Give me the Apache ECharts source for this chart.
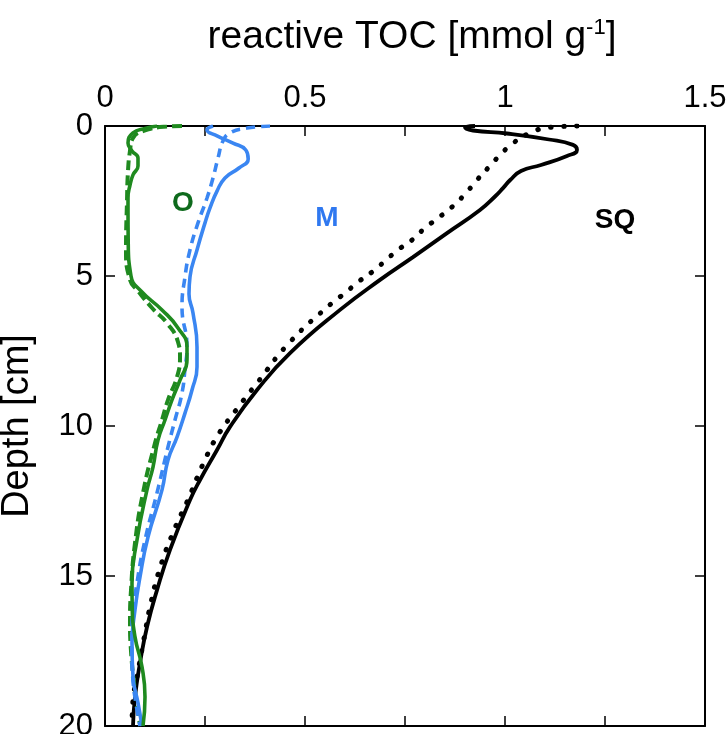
<!DOCTYPE html>
<html><head><meta charset="utf-8">
<script src="https://cdn.jsdelivr.net/npm/echarts@6/dist/echarts.min.js"></script>
<style>html,body{margin:0;padding:0;background:#fff}#c{width:727px;height:734px}</style>
</head><body><div id="c"></div>
<script>
// SQ (black)
const sqSolidX = [0.925,0.90,0.92,1.005,1.11,1.17,1.18,1.155,1.09,1.04,1.013,0.995,0.975,0.9375,0.855,0.77,0.6875,0.5875,0.4625,0.38,0.3125,0.28,0.2375,0.2125,0.1625,0.13,0.105,0.0875,0.075,0.07];
const sqSolidD = [0,0.05,0.15,0.25,0.45,0.63,0.8,1.0,1.3,1.5,1.8,2.07,2.35,2.8,3.57,4.37,5.13,6.13,7.57,8.8,10.03,10.8,11.8,12.47,14.13,15.47,16.7,17.9,19.03,20];
const sqDotX = [1.18,1.11,1.06,1.0175,0.9875,0.9575,0.93,0.9,0.8675,0.8325,0.8,0.7675,0.7325,0.7,0.6675,0.6325,0.6,0.5675,0.4625,0.38,0.33,0.2825,0.2475,0.205,0.175,0.1375,0.1125,0.1,0.08,0.07,0.0675];
const sqDotD = [0,0.05,0.25,0.6,0.97,1.4,1.8,2.27,2.7,3.07,3.4,3.8,4.13,4.5,4.87,5.2,5.57,5.9,7.2,8.57,9.43,10.3,11.2,12.53,13.4,14.73,16.03,16.9,18.37,19.13,20];
// M (blue)
const mSolidX = [0.27,0.255,0.28,0.32,0.352,0.358,0.335,0.3,0.28,0.2625,0.25,0.23,0.2125,0.21,0.22,0.23,0.23,0.2175,0.2,0.18,0.1575,0.1425,0.1075,0.0875,0.075,0.0675,0.07,0.0825,0.0925];
const mSolidD = [0,0.13,0.33,0.57,0.8,1.1,1.4,1.73,2.17,2.73,3.23,4.13,5.03,5.6,6.23,7.37,8.03,8.8,9.57,10.37,11.13,12.13,13.7,15.03,16.13,17.23,18.37,19.23,20];
const mDashX = [0.4125,0.355,0.3125,0.295,0.2825,0.27,0.255,0.2325,0.2125,0.2,0.1925,0.205,0.2,0.1925,0.175,0.1575,0.13,0.1,0.08,0.0675,0.067,0.07,0.078,0.0875];
const mDashD = [0,0.07,0.23,0.5,1.07,1.73,2.4,3.23,4.13,5.03,6.03,7.37,8.1,8.9,9.8,10.7,12.23,13.8,15.23,16.57,17.5,18.5,19.3,20];
// O (green)
const oSolidX = [0.13,0.1,0.07,0.0575,0.0675,0.0825,0.0825,0.07,0.0625,0.0575,0.0575,0.058,0.065,0.09,0.1425,0.1825,0.205,0.205,0.1875,0.1675,0.15,0.1325,0.12,0.105,0.08,0.0675,0.068,0.075,0.0925,0.1,0.095];
const oSolidD = [0,0.08,0.23,0.57,0.83,1.07,1.33,1.63,1.97,2.4,2.8,3.8,5.0,5.5,6.13,6.73,7.37,7.8,8.47,9.13,9.8,10.47,11.37,12.13,13.8,15.23,16.0,17.03,18.03,19.03,20];
const oDashX = [0.1925,0.155,0.095,0.07,0.0625,0.0575,0.055,0.0525,0.0625,0.0825,0.12,0.155,0.1825,0.1875,0.18,0.1575,0.1425,0.125,0.095,0.075,0.065,0.0625,0.065,0.072,0.08,0.088];
const oDashD = [0,0.02,0.17,0.4,0.83,1.5,2.5,4.13,5.13,5.5,6.1,6.57,7.2,7.7,8.37,9.13,9.8,10.57,12.23,13.9,15.47,16.57,17.5,18.5,19.3,20];
// labels
const labelNames = ['O','M','SQ'];
const labelX = [0.195,0.555,1.275];
const labelD = [2.57,3.07,3.13];
const xTicks = [0,0.5,1,1.5];
const yTicks = [0,5,10,15,20];

const GREEN='#1f8a1f', BLUE='#3a86f2', BLACK='#000';
const labelColors = ['#0e6a1c','#2f78f0','#000'];
const pairs=(xs,ds)=>xs.map((x,i)=>[x,ds[i]]);
const FONT='Liberation Sans, Arial, sans-serif';

const chart = echarts.init(document.getElementById('c'));
const axisCommon = {
  type:'value', axisLine:{show:true,onZero:false,lineStyle:{color:'#000',width:2}},
  axisTick:{show:true,inside:true,length:10,lineStyle:{color:'#000',width:1.5}},
  splitLine:{show:false}
};
function line(xs,ds,color,type,width,z,cap){
  return {type:'line',data:pairs(xs,ds),smooth:0.5,showSymbol:false,symbol:'none',z:z,
    lineStyle:{color:color,width:width,type:type,cap:cap||'butt',opacity:1},xAxisIndex:0,yAxisIndex:0,animation:false};
}
chart.setOption({
  animation:false,
  title:{text:'reactive TOC [mmol g{sup|-1}]',left:407,top:12,textAlign:'center',
    textStyle:{fontFamily:FONT,fontSize:39,fontWeight:'normal',color:'#000',
      rich:{sup:{fontSize:22,verticalAlign:'top',padding:[0,0,18,0],fontFamily:FONT}}}},
  grid:{left:105,top:126,width:600,height:600,containLabel:false,outerBoundsMode:'none'},
  xAxis:[
    Object.assign({},axisCommon,{position:'top',min:0,max:1.5,interval:0.25,
      axisLabel:{show:true,margin:12,fontSize:31,fontFamily:FONT,color:'#000',
        formatter:v=>xTicks.some(t=>Math.abs(t-v)<1e-9)?String(v):''}}),
    Object.assign({},axisCommon,{position:'bottom',min:0,max:1.5,interval:0.25,axisLabel:{show:false}})
  ],
  yAxis:[
    Object.assign({},axisCommon,{position:'left',inverse:true,min:0,max:20,interval:5,
      name:'Depth [cm]',nameLocation:'middle',nameGap:68,nameRotate:90,
      nameTextStyle:{fontSize:38,fontFamily:FONT,color:'#000'},
      axisLabel:{show:true,margin:12,fontSize:31,fontFamily:FONT,color:'#000',
        formatter:v=>yTicks.includes(v)?String(v):''}}),
    Object.assign({},axisCommon,{position:'right',inverse:true,min:0,max:20,interval:5,axisLabel:{show:false}})
  ],
  series:[
    line(sqDotX,sqDotD,BLACK,[0.5,12.5],5,2,'round'),
    line(sqSolidX,sqSolidD,BLACK,'solid',3.8,3),
    line(oDashX,oDashD,GREEN,[10,5],4,4),
    line(mDashX,mDashD,BLUE,[9,6],3.6,5),
    line(mSolidX,mSolidD,BLUE,'solid',3.6,6),
    line(oSolidX,oSolidD,GREEN,'solid',3.6,7),
    {type:'scatter',symbolSize:0,z:10,itemStyle:{opacity:1},
      data:labelNames.map((n,i)=>({value:[labelX[i],labelD[i]],name:n,
      label:{show:true,position:'inside',formatter:n,fontSize:28,fontWeight:'bold',fontFamily:FONT,
        color:labelColors[i],opacity:1,textBorderWidth:0}}))}
  ]
});
</script></body></html>
